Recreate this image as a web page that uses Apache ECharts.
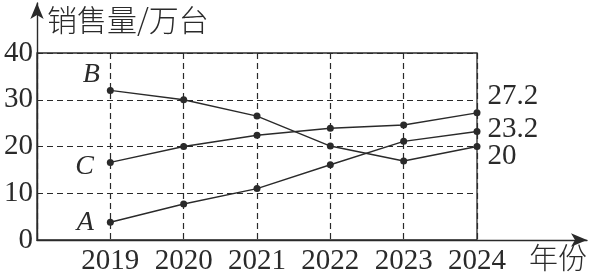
<!DOCTYPE html>
<html><head><meta charset="utf-8">
<script src="https://cdn.jsdelivr.net/npm/echarts@6/dist/echarts.min.js"></script>
<style>html,body{margin:0;padding:0;background:#fff}#c{width:595px;height:278px}</style>
</head><body><div id="c"></div>
<script>
var years = [2019, 2020, 2021, 2022, 2023, 2024];
var seriesA = [3.8, 7.7, 11, 16.1, 21.1, 23.2];
var seriesB = [32, 30, 26.5, 20.1, 16.9, 20];
var seriesC = [16.6, 20, 22.4, 23.9, 24.6, 27.2];
var yTicks = [0, 10, 20, 30, 40];
var endLabels = {A: '23.2', B: '20', C: '27.2'};

var serif = '"Liberation Serif","DejaVu Serif",serif';
var cjk = '"Noto Sans CJK SC",sans-serif';
var ink = '#2a2a2a';

function build(name, vals, startOffset, endOffset) {
  return {
    type: 'line', name: name, xAxisIndex: 0, yAxisIndex: 0,
    symbol: 'circle', symbolSize: 7,
    itemStyle: {color: ink},
    lineStyle: {color: ink, width: 1.4},
    z: 5,
    data: vals.map(function (v, i) {
      var d = {value: [years[i], v]};
      if (i === 0) {
        d.label = {show: true, formatter: name, position: 'left', offset: startOffset,
          fontFamily: serif, fontStyle: 'italic', fontSize: 28, color: ink};
      } else if (i === vals.length - 1) {
        d.label = {show: true, formatter: endLabels[name], position: 'right', offset: endOffset,
          fontFamily: serif, fontSize: 29, color: ink};
      }
      return d;
    })
  };
}

var chart = echarts.init(document.getElementById('c'), null, {renderer: 'canvas'});
chart.setOption({
  animation: false,
  grid: [
    {left: 37, right: 118, top: 53, bottom: 38, show: true, borderColor: ink, borderWidth: 1.3},
    {left: 37, right: 8, top: 3, bottom: 38}
  ],
  xAxis: [
    {type: 'value', gridIndex: 0, min: 2018, max: 2024, interval: 1,
      axisLine: {show: false}, axisTick: {show: false},
      splitLine: {show: true, lineStyle: {color: ink, type: [6, 4], width: 1.2}},
      axisLabel: {margin: 7, fontFamily: serif, fontSize: 29, color: ink,
        formatter: function (v) { return years.indexOf(v) >= 0 ? String(v) : ''; }}},
    {type: 'value', gridIndex: 1, min: 0, max: 1,
      axisLine: {show: true, onZero: false, symbol: ['none', 'arrow'], symbolSize: [10, 16],
        lineStyle: {color: ink, width: 1.4}},
      axisTick: {show: false}, axisLabel: {show: false}, splitLine: {show: false}}
  ],
  yAxis: [
    {type: 'value', gridIndex: 0, min: yTicks[0], max: yTicks[yTicks.length - 1], interval: 10,
      axisLine: {show: false}, axisTick: {show: false},
      splitLine: {show: true, lineStyle: {color: ink, type: [6, 4], width: 1.2}},
      axisLabel: {margin: 4, fontFamily: serif, fontSize: 29, color: ink}},
    {type: 'value', gridIndex: 1, min: 0, max: 1,
      axisLine: {show: true, onZero: false, symbol: ['none', 'arrow'], symbolSize: [10, 16],
        lineStyle: {color: ink, width: 1.4}},
      axisTick: {show: false}, axisLabel: {show: false}, splitLine: {show: false}}
  ],
  graphic: [
    {type: 'text', left: 47, top: 5, style: {text: '销售量/万台', fontSize: 30, fontWeight: 300,
      fontFamily: cjk, fill: ink}},
    {type: 'text', left: 529, top: 243, style: {text: '年份', fontSize: 29, fontWeight: 300,
      fontFamily: cjk, fill: ink}}
  ],
  series: [
    build('B', seriesB, [-2, -16], [2, 10]),
    build('C', seriesC, [-8, 4], [2, -16]),
    build('A', seriesA, [-8, 0], [2, -2])
  ]
});
</script></body></html>
